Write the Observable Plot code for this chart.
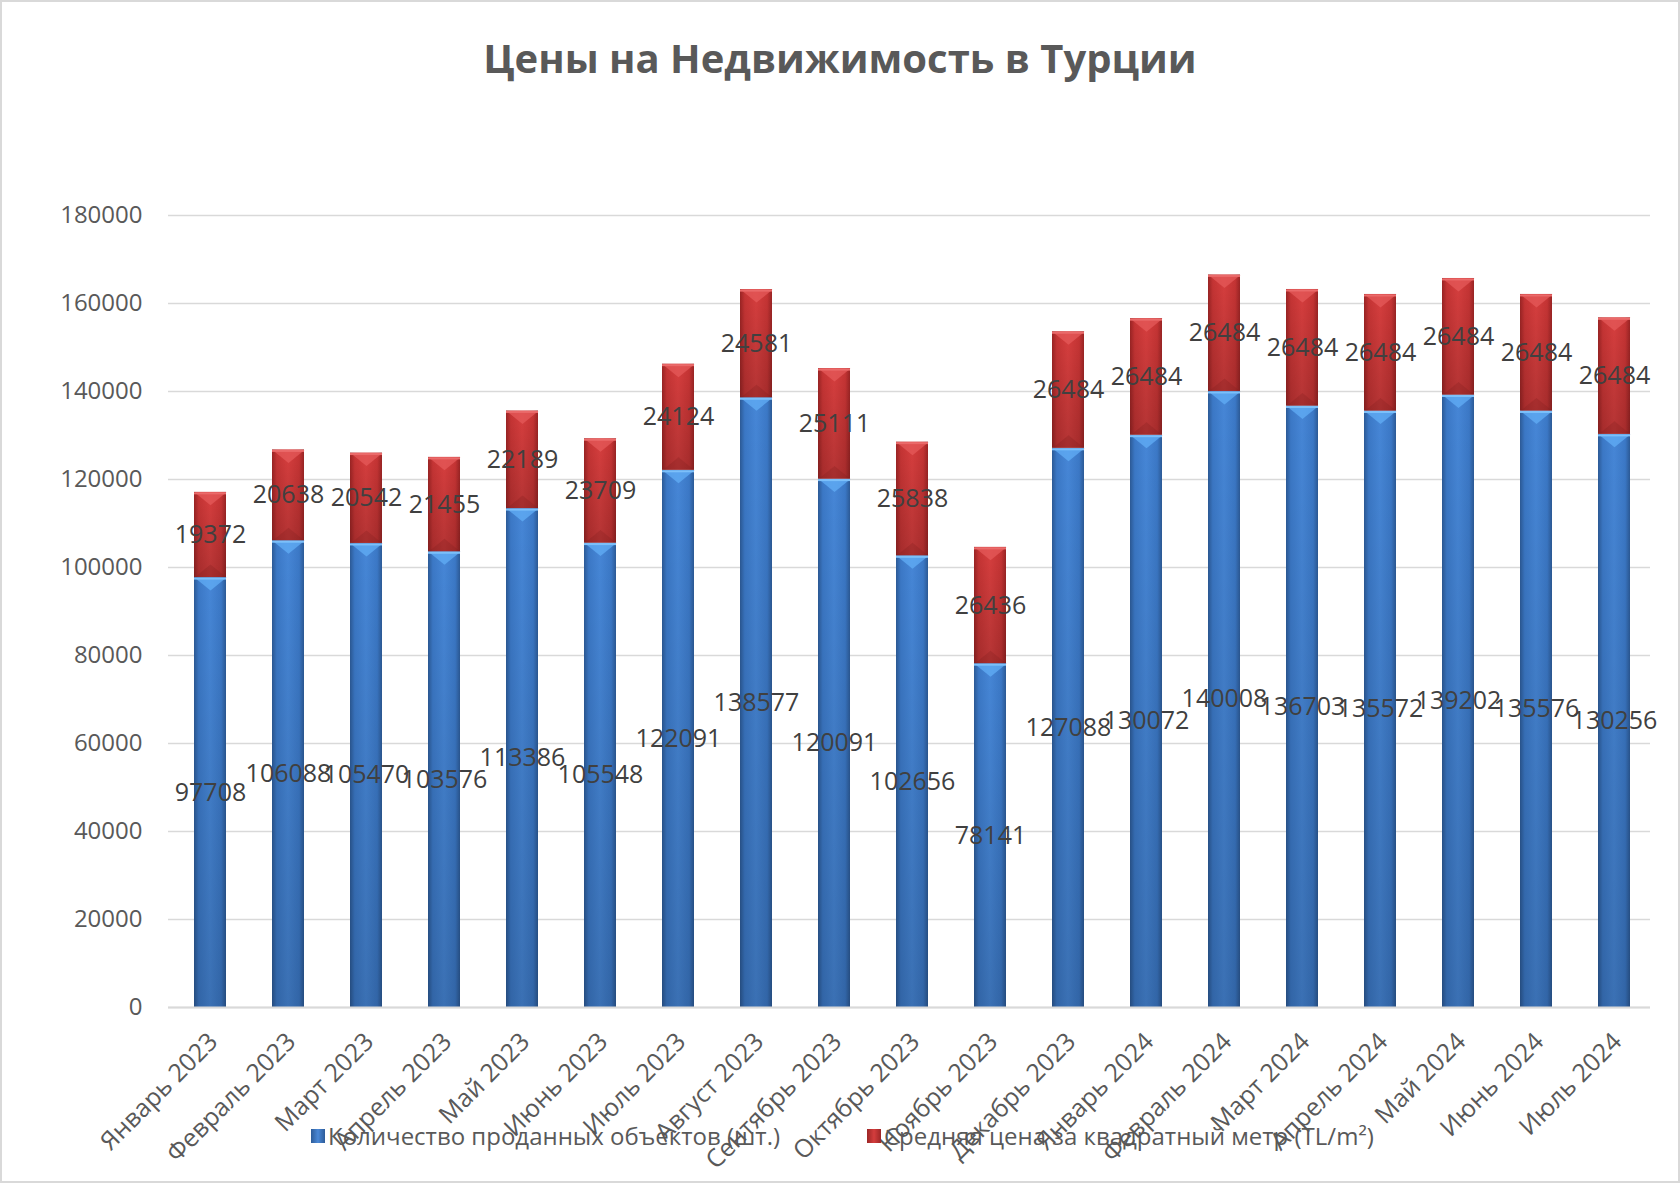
<!DOCTYPE html>
<html><head><meta charset="utf-8">
<script src="https://cdn.jsdelivr.net/npm/d3@7"></script>
<script src="https://cdn.jsdelivr.net/npm/@observablehq/plot@0.6"></script>
<style>
body{margin:0;background:#fff;}
#wrap{position:relative;width:1680px;height:1183px;overflow:hidden;font-family:"Open Sans",sans-serif;background:#fff;}
#frame{position:absolute;left:0;top:0;width:1680px;height:1183px;box-sizing:border-box;border:2px solid #d9d9d9;pointer-events:none;}
#title{position:absolute;left:0;width:1680px;top:30px;text-align:center;font-weight:700;font-size:40px;line-height:56px;color:#595959;}
#chart{position:absolute;left:0;top:0;}
#chart svg{max-width:none;}
.leg{position:absolute;top:1119px;display:flex;align-items:center;font-size:24px;color:#595959;line-height:34px;}
.sw{width:14px;height:14px;margin-right:3px;}
</style></head>
<body>
<div id="wrap">
  <div id="chart"></div>
  <div id="title">Цены на Недвижимость в Турции</div>
  <div class="leg" style="left:311px"><div class="sw" style="background:linear-gradient(90deg,#2d5c99,#4a88d6,#2d5c99)"></div><span id="l1"></span></div>
  <div class="leg" style="left:867px"><div class="sw" style="background:linear-gradient(90deg,#9c2626,#d43d3d,#9c2626)"></div><span id="l2"></span></div>
  <div id="frame"></div>
</div>
<script>
const months = ["Январь 2023","Февраль 2023","Март 2023","Апрель 2023","Май 2023","Июнь 2023","Июль 2023","Август 2023","Сентябрь 2023","Октябрь 2023","Ноябрь 2023","Декабрь 2023","Январь 2024","Февраль 2024","Март 2024","Апрель 2024","Май 2024","Июнь 2024","Июль 2024"];
const sold = [97708,106088,105470,103576,113386,105548,122091,138577,120091,102656,78141,127088,130072,140008,136703,135572,139202,135576,130256];
const price = [19372,20638,20542,21455,22189,23709,24124,24581,25111,25838,26436,26484,26484,26484,26484,26484,26484,26484,26484];
const seriesNames = ["Количество проданных объектов (шт.)","Средняя цена за квадратный метр (TL/m²)"];
const yTicks = [0,20000,40000,60000,80000,100000,120000,140000,160000,180000];

document.getElementById("l1").textContent = seriesNames[0];
document.getElementById("l2").textContent = seriesNames[1];

const data = months.flatMap((m,i)=>[
  {month:m, series:seriesNames[0], value:sold[i]},
  {month:m, series:seriesNames[1], value:price[i]}
]);
const isBlue = d => d.series === seriesNames[0];
const fillFor = d => isBlue(d) ? "url(#gBlue)" : "url(#gRed)";
const bevelFor = d => isBlue(d) ? "#62aef5" : "#e45a5a";
const edgeFor = d => isBlue(d) ? "#7cc0fa" : "#ea6a6a";
const baseShadeFor = d => isBlue(d) ? "none" : "#7a1a1a";

// flat bevel triangles (pointing down from a segment top / up from a segment bottom)
const bevelDown = {draw(ctx){ ctx.moveTo(-16,0); ctx.lineTo(16,0); ctx.lineTo(0,13); ctx.closePath(); }};
const bevelUp = {draw(ctx){ ctx.moveTo(-16,0); ctx.lineTo(16,0); ctx.lineTo(0,-13); ctx.closePath(); }};

const plot = Plot.plot({
  width:1680, height:1183,
  marginTop:215, marginBottom:176, marginLeft:168, marginRight:30,
  style:{fontFamily:"'Open Sans', sans-serif", fontSize:"24px", color:"#595959", background:"transparent", overflow:"visible"},
  x:{domain:months, range:[168,1656], paddingInner:0.59, paddingOuter:0.28, label:null},
  y:{domain:[0,180000], label:null},
  marks:[
    Plot.gridY(yTicks, {stroke:"#d9d9d9", strokeOpacity:1, strokeWidth:1.5}),
    Plot.barY(data, Plot.stackY({x:"month", y:"value", z:"series", order:seriesNames, fill:{value:fillFor, scale:null}})),
    Plot.barY(data, Plot.stackY({x:"month", y:"value", z:"series", order:seriesNames, fill:"url(#gShade)"})),
    Plot.dot(data, Plot.stackY2({x:"month", y:"value", z:"series", order:seriesNames, symbol:bevelDown, r:5, fill:{value:bevelFor, scale:null}, fillOpacity:0.75, stroke:null})),
    Plot.dot(data, Plot.stackY1({x:"month", y:"value", z:"series", order:seriesNames, symbol:bevelUp, r:5, fill:{value:baseShadeFor, scale:null}, fillOpacity:0.25, stroke:null})),
    Plot.tickY(data, Plot.stackY2({x:"month", y:"value", z:"series", order:seriesNames, stroke:{value:edgeFor, scale:null}, strokeWidth:2, dy:1})),
    Plot.ruleY([0], {stroke:"#d9d9d9", strokeWidth:2}),
    Plot.axisY(yTicks, {tickSize:0, tickPadding:26, tickFormat:d=>String(d), fontSize:24, fill:"#595959"}),
    Plot.axisX({tickSize:0, tickRotate:-45, tickPadding:30, dx:3, fontSize:25, fill:"#595959"}),
    Plot.text(data, Plot.stackY({x:"month", y:"value", z:"series", order:seriesNames, text:d=>String(d.value), fill:"#404040", fontSize:25}))
  ]
});
d3.select(plot).insert("defs", ":first-child").html(`
  <linearGradient id="gBlue" x1="0" x2="1" y1="0" y2="0">
    <stop offset="0" stop-color="#2c5a96"/>
    <stop offset="0.15" stop-color="#3b78c6"/>
    <stop offset="0.5" stop-color="#4686d6"/>
    <stop offset="0.85" stop-color="#3b78c6"/>
    <stop offset="1" stop-color="#2c5a96"/>
  </linearGradient>
  <linearGradient id="gRed" x1="0" x2="1" y1="0" y2="0">
    <stop offset="0" stop-color="#9a2424"/>
    <stop offset="0.15" stop-color="#c53434"/>
    <stop offset="0.5" stop-color="#d63e3e"/>
    <stop offset="0.85" stop-color="#c53434"/>
    <stop offset="1" stop-color="#9a2424"/>
  </linearGradient>
  <linearGradient id="gShade" x1="0" x2="0" y1="0" y2="1">
    <stop offset="0" stop-color="#000" stop-opacity="0"/>
    <stop offset="1" stop-color="#000" stop-opacity="0.16"/>
  </linearGradient>`);
document.getElementById("chart").appendChild(plot);
</script>
</body></html>
